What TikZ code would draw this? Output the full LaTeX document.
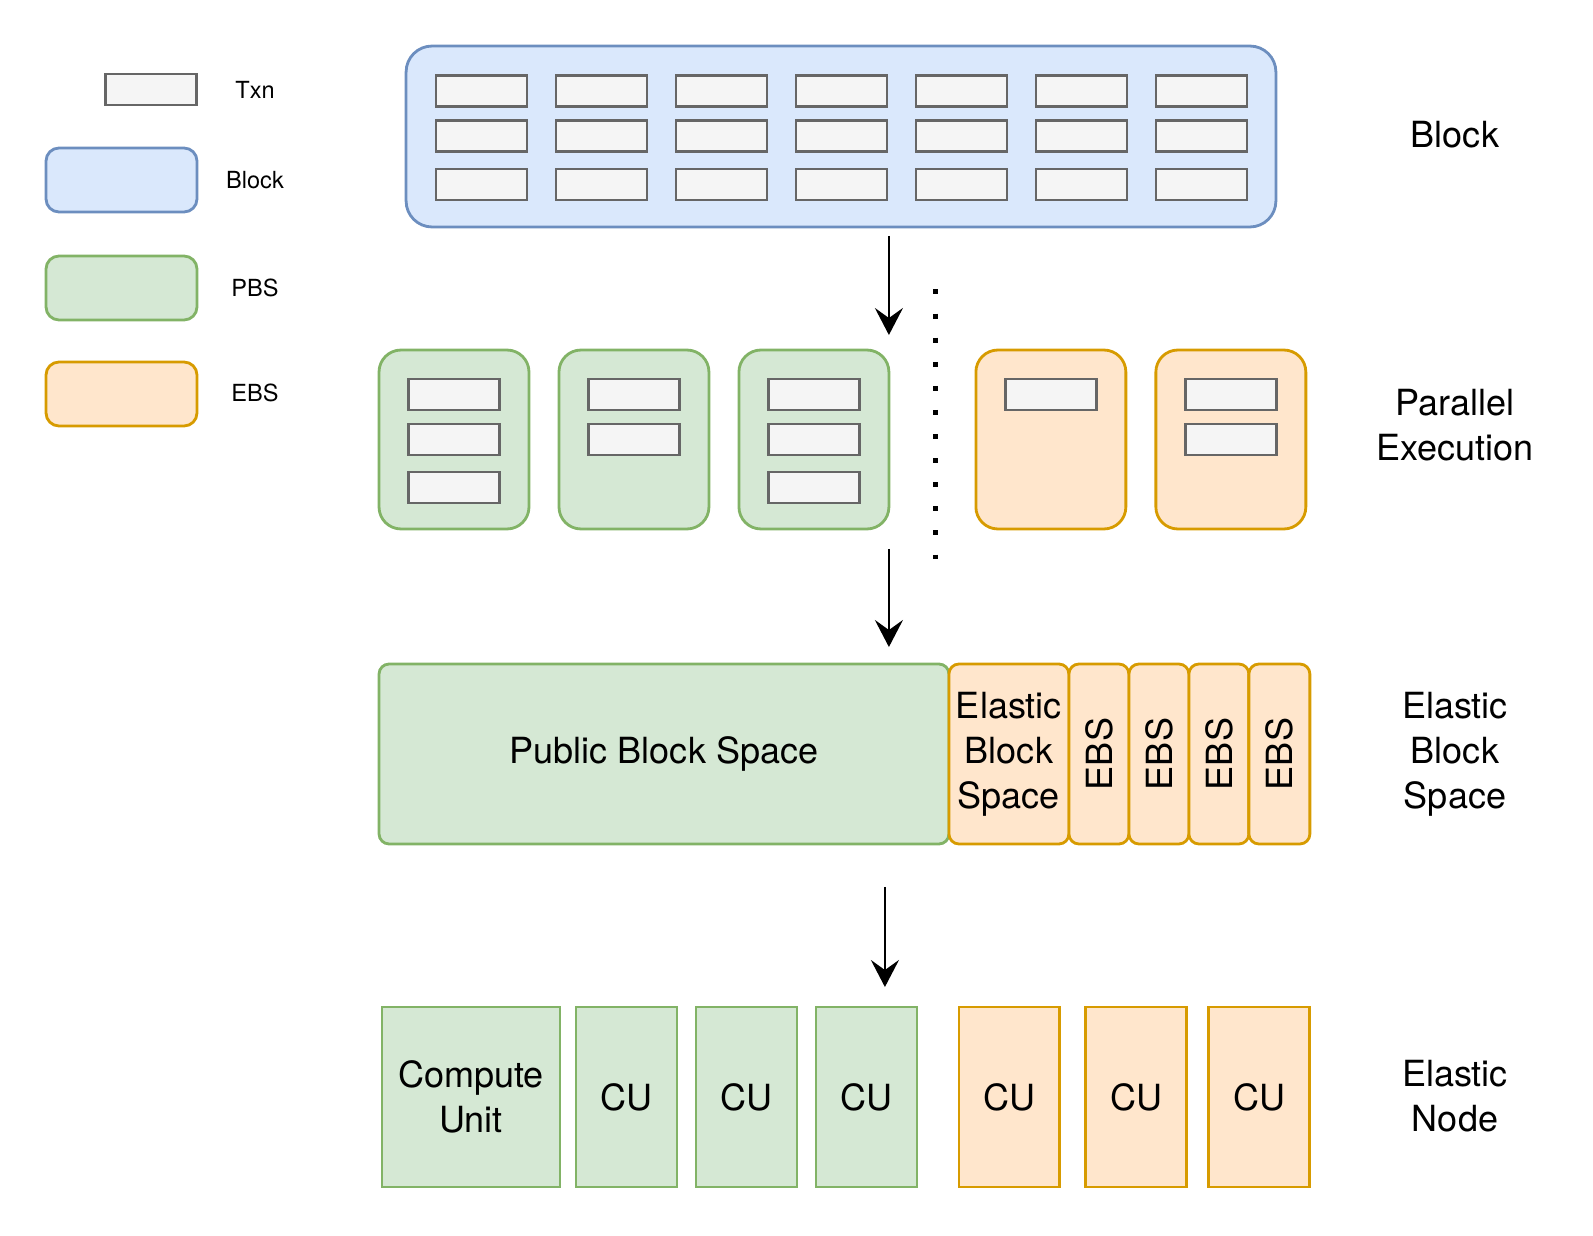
\documentclass[tikz,border=0pt]{standalone}
\usepackage{fontspec}
\setmainfont{TeX Gyre Heros}
\usetikzlibrary{positioning,arrows.meta}
\definecolor{blkfill}{HTML}{DAE8FC}
\definecolor{blkline}{HTML}{6C8EBF}
\definecolor{pbsfill}{HTML}{D5E8D4}
\definecolor{pbsline}{HTML}{82B366}
\definecolor{ebsfill}{HTML}{FFE6CC}
\definecolor{ebsline}{HTML}{D79B00}
\definecolor{txnfill}{HTML}{F5F5F5}
\definecolor{txnline}{HTML}{666666}
\tikzset{
  box/.style={line width=1.6pt, inner sep=0pt, outer sep=0pt, align=center},
  txn/.style={box, draw=txnline, fill=txnfill, minimum width=1.82cm, minimum height=0.62cm},
  blk/.style={box, draw=blkline, fill=blkfill},
  pbsbox/.style={box, draw=pbsline, fill=pbsfill},
  ebsbox/.style={box, draw=ebsline, fill=ebsfill},
  keybox/.style={minimum width=3.02cm, minimum height=1.28cm, rounded corners=0.26cm},
  execbox/.style={minimum width=3cm, minimum height=3.58cm, rounded corners=0.44cm},
  spcbox/.style={minimum height=3.6cm, rounded corners=0.2cm},
  cubox/.style={minimum width=2.02cm, minimum height=3.6cm},
  small/.style={font=\fontsize{13.4}{16}\selectfont},
  rowlbl/.style={align=center},
  arr/.style={-{Stealth[length=0.54cm, width=0.56cm, inset=0.2cm]}, line width=1.5pt}
}

\begin{document}
\begin{tikzpicture}[x=0.02cm, y=-0.02cm, on grid, font=\fontsize{20.5}{25.6}\selectfont]
        \useasboundingbox (0,0) rectangle (1593,1236);

        % legend
        \node[txn]            (keyTxn)   at (151,89.5)  {};
        \node[blk,keybox]     (keyBlk)   at (121.5,180) {};
        \node[pbsbox,keybox]  (keyPbs)   at (121.5,288) {};
        \node[ebsbox,keybox]  (keyEbs)   at (121.5,394) {};
        \node[small] (keyTxnL) at (255,90)  {Txn};
        \node[small] (keyBlkL) at (255,180) {Block};
        \node[small] (keyPbsL) at (255,288) {PBS};
        \node[small] (keyEbsL) at (255,393) {EBS};

        % block with its txns
        \node[blk, minimum width=17.4cm, minimum height=3.62cm, rounded corners=0.52cm]
             (block) at (841,136.5) {};
        \foreach \c in {0,...,6}
          \foreach \r/\y in {1/91,2/136,3/184.5}
            \node[txn] (bt\c\r) at (481.5+120*\c,\y) {};

        % parallel execution
        \node[pbsbox,execbox] (par1) at (454,439.5)       {};
        \node[pbsbox,execbox] (par2) [right=3.6cm of par1]  {};
        \node[pbsbox,execbox] (par3) [right=3.6cm of par2]  {};
        \node[ebsbox,execbox] (par4) [right=4.74cm of par3] {};
        \node[ebsbox,execbox] (par5) [right=3.6cm of par4]  {};

        \node[txn] (p1a) [above=0.9cm of par1]  {};
        \node[txn] (p1b) at (par1)              {};
        \node[txn] (p1c) [below=0.96cm of par1] {};
        \node[txn] (p2a) [above=0.9cm of par2]  {};
        \node[txn] (p2b) at (par2)              {};
        \node[txn] (p3a) [above=0.9cm of par3]  {};
        \node[txn] (p3b) at (par3)              {};
        \node[txn] (p3c) [below=0.96cm of par3] {};
        \node[txn] (p4a) [above=0.9cm of par4]  {};
        \node[txn] (p5a) [above=0.9cm of par5]  {};
        \node[txn] (p5b) at (par5)              {};

        \coordinate (dtop) at (935,289.5);
        \coordinate (dbot) at (935,559.5);
        \draw[line width=0.1cm, dash pattern=on 0.1cm off 0.382cm] (dtop) -- (dbot);

        % elastic block space
        \node[pbsbox,spcbox, minimum width=11.4cm] (pbs) at (664,754) {Public Block Space};
        \node[ebsbox,spcbox, minimum width=2.4cm, anchor=west] (ebs)  at (pbs.east)  {Elastic\\Block\\Space};
        \node[ebsbox,spcbox, minimum width=1.2cm, anchor=west] (ebs1) at (ebs.east)  {\rotatebox{90}{EBS}};
        \node[ebsbox,spcbox, minimum width=1.2cm, anchor=west] (ebs2) at (ebs1.east) {\rotatebox{90}{EBS}};
        \node[ebsbox,spcbox, minimum width=1.2cm, anchor=west] (ebs3) at (ebs2.east) {\rotatebox{90}{EBS}};
        \node[ebsbox,spcbox, minimum width=1.22cm, anchor=west] (ebs4) at (ebs3.east) {\rotatebox{90}{EBS}};

        % elastic node
        \node[pbsbox,cubox, minimum width=3.56cm] (cu0) at (471,1097) {Compute\\Unit};
        \node[pbsbox,cubox] (cu1) [right=3.11cm of cu0] {CU};
        \node[pbsbox,cubox] (cu2) [right=2.4cm of cu1]  {CU};
        \node[pbsbox,cubox] (cu3) [right=2.4cm of cu2]  {CU};
        \node[ebsbox,cubox] (cu4) [right=2.86cm of cu3] {CU};
        \node[ebsbox,cubox] (cu5) [right=2.54cm of cu4] {CU};
        \node[ebsbox,cubox] (cu6) [right=2.46cm of cu5] {CU};

        % row labels
        \node[rowlbl] (lblBlock) at (1455,135)  {Block};
        \node[rowlbl] (lblPar)   at (1455,425)  {Parallel\\Execution};
        \node[rowlbl] (lblEbs)   at (1455,754)  {Elastic\\Block\\Space};
        \node[rowlbl] (lblNode)  at (1455,1096) {Elastic\\Node};

        % arrows
        \coordinate (a3) at ([xshift=0.37cm]cu3.north);
        \draw[arr, shorten <=0.18cm, shorten >=0.3cm] (block.south -| par3.east) -- (par3.north east);
        \draw[arr, shorten <=0.4cm, shorten >=0.34cm] (par3.south east) -- (par3.east |- pbs.north);
        \draw[arr, shorten <=0.86cm, shorten >=0.4cm] (a3 |- pbs.south) -- (a3);
      \end{tikzpicture}
\end{document}
